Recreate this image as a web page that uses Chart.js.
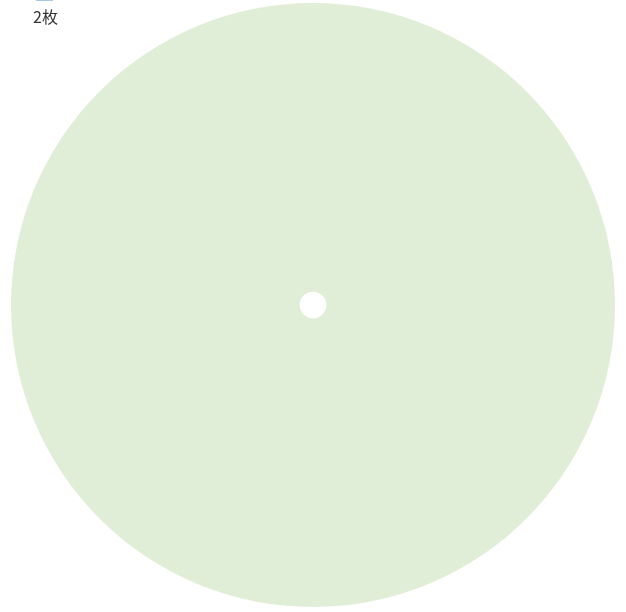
<!DOCTYPE html>
<html>
<head>
<meta charset="utf-8">
<script src="https://cdn.jsdelivr.net/npm/chart.js@4"></script>
<style>
  html, body { margin: 0; padding: 0; background: #fff; }
  #wrap { position: relative; width: 626px; height: 612px; }
  #legendBox { position: absolute; left: 36px; top: -2px; width: 17px; height: 3px; background: #a8c8ea; }
  #legendText { position: absolute; left: 33px; top: 6px; font-family: "Noto Sans CJK JP", "Noto Sans", sans-serif; font-size: 16px; color: #333; line-height: 20px; }
</style>
</head>
<body>
<div id="wrap">
  <canvas id="grafico"></canvas>
  <div id="legendBox"></div>
  <div id="legendText">2枚</div>
</div>
<script>
// Dados do gráfico
const categorias = ['2枚'];
const valores = [1];
const cores = ['#e1eed7'];

const ctx = document.getElementById('grafico').getContext('2d');
new Chart(ctx, {
    type: 'doughnut',
    data: {
        labels: categorias,
        datasets: [{
            data: valores,
            backgroundColor: cores,
            borderWidth: 0
        }]
    },
    options: {
        responsive: true,
        maintainAspectRatio: false,
        animation: false,
        cutout: '4.4%',
        layout: {
            padding: { top: 3, bottom: 5, left: 0, right: 0 }
        },
        plugins: {
            legend: { display: false },
            tooltip: { enabled: false }
        }
    }
});
</script>
</body>
</html>
